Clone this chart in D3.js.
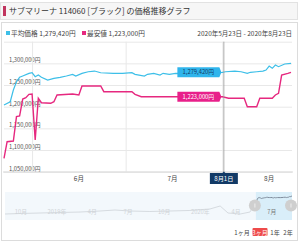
<!DOCTYPE html>
<html>
<head>
<meta charset="utf-8">
<script src="https://cdn.jsdelivr.net/npm/d3@7"></script>
<style>
  body { margin: 0; background: #fff; }
  svg { display: block; font-family: "Noto Sans CJK JP", "Noto Sans", sans-serif; }
</style>
</head>
<body>
<svg id="chart" width="300" height="242"></svg>
<script>
// 平均価格
const avgDates = ['2020-05-23','2020-05-25','2020-05-26','2020-05-27','2020-05-28','2020-05-29','2020-05-31',
  '2020-06-01','2020-06-02','2020-06-03','2020-06-04','2020-06-06','2020-06-08','2020-06-10','2020-06-12',
  '2020-06-14','2020-06-15','2020-06-17','2020-06-19','2020-06-21','2020-06-23','2020-06-27','2020-06-30',
  '2020-07-03','2020-07-04','2020-07-07','2020-07-08','2020-07-10','2020-07-12','2020-07-13','2020-07-15',
  '2020-07-17','2020-07-24','2020-08-01','2020-08-02','2020-08-05','2020-08-07','2020-08-09','2020-08-10',
  '2020-08-12','2020-08-14','2020-08-15','2020-08-16','2020-08-17','2020-08-18','2020-08-19','2020-08-21','2020-08-23'];
const avgValues = [1204000,1211500,1238500,1257700,1267800,1270800,1277000,
  1278400,1269200,1273100,1267800,1261600,1265500,1267800,1270800,
  1274300,1270800,1277000,1280700,1282300,1278400,1277000,1277000,
  1278400,1274700,1270800,1274700,1277000,1273100,1277000,1274700,
  1277000,1275800,1279420,1280700,1282300,1280700,1277000,1279400,
  1280700,1282300,1284700,1293900,1288600,1296200,1292300,1298500,1300100];

// 最安値
const minDates = ['2020-05-23','2020-05-24','2020-05-26','2020-05-27','2020-05-28','2020-05-29','2020-05-30',
  '2020-05-31','2020-06-01','2020-06-02','2020-06-03','2020-06-04','2020-06-07','2020-06-08','2020-06-09',
  '2020-06-14','2020-06-16','2020-06-17','2020-06-23','2020-06-24','2020-07-03','2020-07-04','2020-07-06',
  '2020-08-01','2020-08-03','2020-08-08','2020-08-09','2020-08-12','2020-08-13','2020-08-17','2020-08-18',
  '2020-08-19','2020-08-20','2020-08-22','2020-08-23'];
const minValues = [1080900,1119200,1120800,1177000,1178500,1217700,1220700,
  1228600,1229300,1123100,1219400,1209200,1207800,1211500,1227000,
  1229300,1227000,1247700,1247700,1234600,1234600,1228600,1223000,
  1223000,1219400,1219400,1200000,1200000,1219400,1219400,1227000,
  1230900,1273100,1277000,1279400];

// ナビゲーター (2年)
const navDates = ['2018-08-23','2018-09-30','2018-11-20','2019-01-10','2019-03-02','2019-04-22','2019-05-30',
  '2019-07-07','2019-08-27','2019-10-17','2019-12-07','2020-01-27','2020-02-22','2020-03-13','2020-04-13','2020-05-08'];
const navValues = [1000800,1009000,1017600,1026000,1034000,1051000,1068000,
  1051000,1043000,1051000,1060000,1085000,1135000,1017600,1000800,1034000];
const navTickDates = ['2018-10-01','2019-01-01','2019-04-01','2019-07-01','2019-10-01','2020-01-01','2020-04-01','2020-07-01'];
const navTickLabels = ['10月','2019年','4月','7月','10月','2020年','4月','7月'];

const yTicks = [1050000,1100000,1150000,1200000,1250000,1300000,1350000];
const monthTicks = ['2020-06-01','2020-07-01','2020-08-01'];
const monthLabelDates = ['2020-06-16','2020-07-16','2020-08-16'];
const monthLabels = ['6月','7月','8月'];
const rangeButtons = ['1ヶ月','3ヶ月','1年','2年'];

const title = 'サブマリーナ 114060 [ブラック] の価格推移グラフ';
const avgLabel = '平均価格', minLabel = '最安値';
const rangeText = '2020年5月23日 - 2020年8月23日';
const focusDate = '2020-08-01';

const parse = d3.timeParse('%Y-%m-%d');
const fmt = v => d3.format(',')(v) + '円';
const BLUE = '#3dbfe8', PINK = '#e6287f';

const svg = d3.select('#chart');

// title bar
svg.append('rect').attr('x', 0.5).attr('y', 2.5).attr('width', 297).attr('height', 17)
  .attr('fill', '#f6f6f6').attr('stroke', '#e2e2e2');
svg.append('rect').attr('x', 3).attr('y', 6).attr('width', 3).attr('height', 10).attr('fill', '#c0345e');
svg.append('text').attr('x', 9).attr('y', 14.3).attr('font-size', 8).attr('fill', '#333').text(title);

// panel
svg.append('rect').attr('x', 1.5).attr('y', 22.5).attr('width', 296).attr('height', 218)
  .attr('fill', '#fff').attr('stroke', '#dcdcdc');

// legend
const legend = [[avgLabel, avgValues[avgDates.indexOf(focusDate)], BLUE, 6], [minLabel, minValues[minDates.indexOf(focusDate)], PINK, 82]];
legend.forEach(([name, v, c, lx]) => {
  svg.append('rect').attr('x', lx).attr('y', 31).attr('width', 4).attr('height', 4).attr('fill', c);
  svg.append('text').attr('x', lx + 5).attr('y', 36).attr('font-size', 6.7).attr('fill', '#444')
    .text(name + ' ' + fmt(v));
});
svg.append('text').attr('x', 292).attr('y', 36).attr('text-anchor', 'end').attr('font-size', 6.5)
  .attr('fill', '#444').text(rangeText);

// scales
const x = d3.scaleTime().domain([parse('2020-05-23'), parse('2020-08-23')]).range([4, 291]);
const y = d3.scaleLinear().domain([1050000, 1350000]).range([171.7, 41.7]);

// y grid + labels
const yAxis = svg.append('g')
  .call(d3.axisRight(y).tickValues(yTicks).tickSize(288).tickFormat(d => d === 1350000 ? '' : fmt(d)))
  .attr('transform', 'translate(4,0)');
yAxis.select('.domain').remove();
yAxis.selectAll('line').attr('stroke', '#e8e8e8');
yAxis.selectAll('text').attr('x', 5).attr('dy', -1.5).attr('text-anchor', 'start')
  .attr('dominant-baseline', 'auto').attr('font-size', 5.8).attr('fill', '#555')
  .attr('font-family', '"Noto Sans CJK JP", sans-serif');

// x grid
const xAxis = svg.append('g').attr('transform', 'translate(0,171.7)')
  .call(d3.axisBottom(x).tickValues(monthTicks.map(parse)).tickSize(-130).tickFormat(''));
xAxis.select('.domain').remove();
xAxis.selectAll('line').attr('stroke', '#e8e8e8');
svg.append('line').attr('x1', 3).attr('x2', 293).attr('y1', 172).attr('y2', 172).attr('stroke', '#d8d8d8');
svg.append('g').selectAll('text').data(monthLabelDates).join('text')
  .attr('x', d => x(parse(d))).attr('y', 181).attr('text-anchor', 'middle')
  .attr('font-size', 6.5).attr('fill', '#444').text((d, i) => monthLabels[i]);

// lines
const line = d3.line().x(d => x(d[0])).y(d => y(d[1])).curve(d3.curveLinear);
const avgData = avgDates.map((d, i) => [parse(d), avgValues[i]]);
const minData = minDates.map((d, i) => [parse(d), minValues[i]]);
svg.append('path').datum(minData).attr('d', line).attr('fill', 'none').attr('stroke', PINK).attr('stroke-width', 1.4);
svg.append('path').datum(avgData).attr('d', line).attr('fill', 'none').attr('stroke', BLUE).attr('stroke-width', 1.2);

// crosshair
const fx = x(parse(focusDate)) + 1.5;
svg.append('line').attr('x1', fx).attr('x2', fx).attr('y1', 41.7).attr('y2', 172).attr('stroke', '#9a9a9a').attr('stroke-width', 0.8);
svg.append('path').attr('d', `M${fx - 2},173.5 L${fx},171.5 L${fx + 2},173.5 Z`).attr('fill', '#123a66');
svg.append('rect').attr('x', fx - 14).attr('y', 173).attr('width', 28).attr('height', 11).attr('fill', '#123a66');
svg.append('text').attr('x', fx).attr('y', 181).attr('text-anchor', 'middle').attr('font-size', 6.2)
  .attr('fill', '#fff').text(d3.timeFormat('%-m月%-d日')(parse(focusDate)));

// flags
[[avgValues[avgDates.indexOf(focusDate)], '#2fb5ec', '#123a66'], [minValues[minDates.indexOf(focusDate)], '#e8208a', '#fff']]
  .forEach(([v, c, tc]) => {
    const cy = y(v), r = fx - 2.5;
    svg.append('path').attr('d', `M${r - 44},${cy - 5} H${r - 2} L${r},${cy} L${r - 2},${cy + 5} H${r - 44} Z`)
      .attr('fill', c);
    svg.append('text').attr('x', r - 23).attr('y', cy + 2).attr('text-anchor', 'middle')
      .attr('font-size', 5.8).attr('fill', tc).text(fmt(v));
  });

// navigator
const nx = d3.scaleTime().domain([parse('2018-08-23'), parse('2020-08-23')]).range([5, 292]);
const ny = d3.scaleLinear().domain([900000, 1320000]).range([220, 195]);
svg.append('rect').attr('x', 5).attr('y', 192).attr('width', 287).attr('height', 28).attr('fill', '#f3f8fc');
const selX0 = nx(parse('2020-05-23')), selX1 = nx(parse('2020-08-23'));
svg.append('rect').attr('x', selX0).attr('y', 192).attr('width', selX1 - selX0).attr('height', 28).attr('fill', '#d9eef9');

const navData = navDates.map((d, i) => [parse(d), navValues[i]]).concat(avgData);
const navLine = d3.line().x(d => nx(d[0])).y(d => ny(d[1]));
const defs = svg.append('defs');
defs.append('clipPath').attr('id', 'outside').append('rect').attr('x', 0).attr('y', 185).attr('width', selX0).attr('height', 40);
defs.append('clipPath').attr('id', 'inside').append('rect').attr('x', selX0).attr('y', 185).attr('width', 300).attr('height', 40);
svg.append('path').datum(navData).attr('d', navLine).attr('fill', 'none').attr('stroke', '#d6dbe0')
  .attr('stroke-width', 1).attr('clip-path', 'url(#outside)');
svg.append('path').datum(navData).attr('d', navLine).attr('fill', 'none').attr('stroke', '#7f8c9c')
  .attr('stroke-width', 1).attr('clip-path', 'url(#inside)');

const navAxis = svg.append('g').attr('transform', 'translate(0,214)')
  .call(d3.axisBottom(nx).tickValues(navTickDates.map(parse)).tickSize(0).tickPadding(0)
    .tickFormat((d, i) => navTickLabels[i]));
navAxis.select('.domain').remove();
navAxis.selectAll('text').attr('dy', 0).attr('font-size', 5.8)
  .attr('font-family', '"Noto Sans CJK JP", sans-serif')
  .attr('fill', (d, i) => nx(d) > selX0 ? '#777' : '#d0d4d8');

[selX0 - 1, selX1 - 1].forEach(hx => {
  svg.append('circle').attr('cx', hx).attr('cy', 205.5).attr('r', 6).attr('fill', '#cfcfcf');
  svg.append('line').attr('x1', hx).attr('x2', hx).attr('y1', 203.5).attr('y2', 207.5).attr('stroke', '#eee');
});

// range buttons
const btnX = [242, 260, 275, 288];
rangeButtons.forEach((b, i) => {
  if (i === 1) {
    svg.append('rect').attr('x', btnX[i] - 7.5).attr('y', 228).attr('width', 15).attr('height', 8)
      .attr('fill', '#ee4b4b').attr('rx', 1);
  }
  svg.append('text').attr('x', btnX[i]).attr('y', 234.5).attr('text-anchor', 'middle').attr('font-size', 6)
    .attr('fill', i === 1 ? '#fff' : '#444').text(b);
});
</script>
</body>
</html>
